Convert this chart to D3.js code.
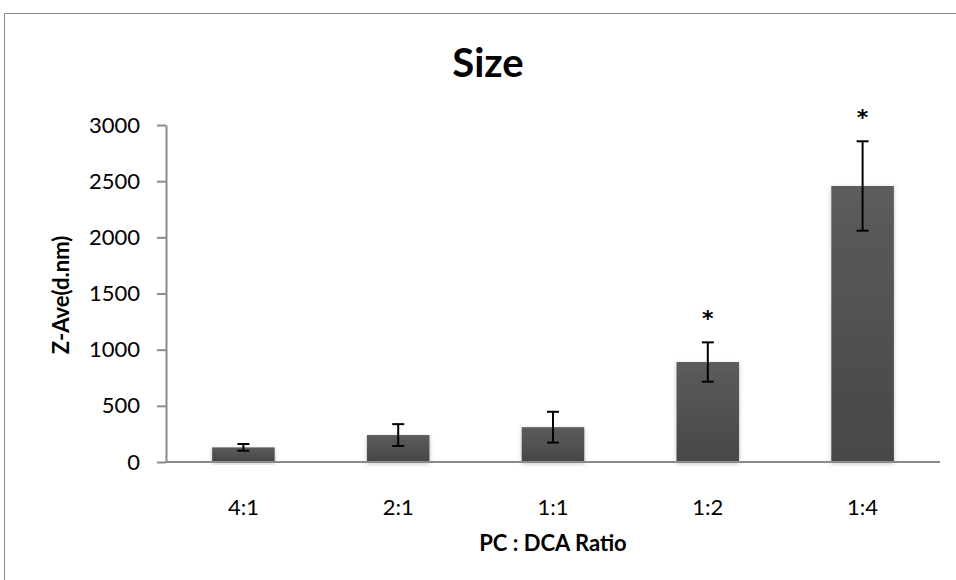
<!DOCTYPE html>
<html>
<head>
<meta charset="utf-8">
<script src="https://cdn.jsdelivr.net/npm/d3@7"></script>
<style>
  html, body { margin: 0; padding: 0; background: #fff; }
  svg { display: block; font-family: "Lato", "Open Sans", sans-serif; }
</style>
</head>
<body>
<svg id="chart" width="956" height="580"></svg>
<script>
// Mean Z-average particle size per PC:DCA ratio, with standard deviation
const categories = ["4:1", "2:1", "1:1", "1:2", "1:4"];
const sizeMeans = [130, 240, 310, 890, 2457];
const sizeErrors = [30, 97, 137, 175, 398];
const significant = [false, false, false, true, true];
const yTicks = [0, 500, 1000, 1500, 2000, 2500, 3000];

const svg = d3.select("#chart");
const margin = { left: 166, right: 16, top: 125, bottom: 118 };
const W = 956, H = 580;

// outer chart frame
svg.append("rect")
  .attr("x", 4.5).attr("y", 13.5)
  .attr("width", W + 10).attr("height", H + 10)
  .attr("fill", "#fff").attr("stroke", "#8c8c8c").attr("stroke-width", 1);

const x = d3.scaleBand()
  .domain(categories)
  .range([margin.left, W - margin.right])
  .paddingInner(0.596)
  .paddingOuter(0.298);

const y = d3.scaleLinear()
  .domain([0, 3000])
  .range([H - margin.bottom, margin.top]);

const defs = svg.append("defs");
const grad = defs.append("linearGradient")
  .attr("id", "barFill").attr("x1", 0).attr("y1", 0).attr("x2", 0).attr("y2", 1);
grad.append("stop").attr("offset", "0%").attr("stop-color", "#5c5c5c");
grad.append("stop").attr("offset", "100%").attr("stop-color", "#474747");

const shadow = defs.append("filter").attr("id", "barShadow")
  .attr("x", "-20%").attr("y", "-10%").attr("width", "140%").attr("height", "130%");
shadow.append("feDropShadow")
  .attr("dx", 0).attr("dy", 1.5).attr("stdDeviation", 2)
  .attr("flood-color", "#000").attr("flood-opacity", 0.25);

// bars
svg.append("g").selectAll("rect")
  .data(categories)
  .join("rect")
  .attr("x", d => x(d))
  .attr("width", x.bandwidth())
  .attr("y", (d, i) => y(sizeMeans[i]))
  .attr("height", (d, i) => y(0) - y(sizeMeans[i]))
  .attr("fill", "url(#barFill)")
  .attr("filter", "url(#barShadow)");

// y axis
const yAxis = svg.append("g")
  .attr("transform", `translate(${margin.left},0)`)
  .call(d3.axisLeft(y).tickValues(yTicks).tickFormat(d3.format("d"))
    .tickSize(9).tickPadding(17).tickSizeOuter(0));
yAxis.select(".domain").attr("stroke", "#8a8a8a").attr("stroke-width", 2);
yAxis.selectAll(".tick line").attr("stroke", "#8a8a8a").attr("stroke-width", 2);
yAxis.selectAll(".tick text")
  .attr("fill", "#000").style("font-size", "22px").style("font-family", "Lato, sans-serif");

// x axis
const xAxis = svg.append("g")
  .attr("transform", `translate(0,${y(0)})`)
  .call(d3.axisBottom(x).tickSize(0).tickPadding(37));
xAxis.select(".domain").attr("stroke", "#8a8a8a").attr("stroke-width", 2)
  .attr("d", `M${margin.left},0H${W - margin.right}`);
xAxis.selectAll(".tick text")
  .attr("fill", "#000").style("font-size", "22px").style("font-family", "Lato, sans-serif");

// error bars
const cap = 6;
const eb = svg.append("g").attr("stroke", "#000").attr("stroke-width", 2);
categories.forEach((c, i) => {
  const cx = x(c) + x.bandwidth() / 2;
  const hi = y(sizeMeans[i] + sizeErrors[i]);
  const lo = y(sizeMeans[i] - sizeErrors[i]);
  eb.append("line").attr("x1", cx).attr("x2", cx).attr("y1", hi).attr("y2", lo);
  eb.append("line").attr("x1", cx - cap).attr("x2", cx + cap).attr("y1", hi).attr("y2", hi);
  eb.append("line").attr("x1", cx - cap).attr("x2", cx + cap).attr("y1", lo).attr("y2", lo);
});

// significance markers
svg.append("g").selectAll("text")
  .data(categories.filter((c, i) => significant[i]))
  .join("text")
  .attr("x", d => x(d) + x.bandwidth() / 2)
  .attr("y", d => {
    const i = categories.indexOf(d);
    return y(sizeMeans[i] + sizeErrors[i]) - 16;
  })
  .attr("text-anchor", "middle")
  .style("font-family", "'DejaVu Sans', sans-serif")
  .style("font-size", "22px").style("font-weight", "bold")
  .text("*");

// title
svg.append("text")
  .attr("x", 488).attr("y", 77)
  .attr("text-anchor", "middle")
  .style("font-size", "40px").style("font-weight", "bold")
  .text("Size");

// axis titles
svg.append("text")
  .attr("x", 553).attr("y", 551)
  .attr("text-anchor", "middle")
  .style("font-size", "22px").style("font-weight", "bold")
  .text("PC : DCA Ratio");

svg.append("text")
  .attr("transform", "translate(69,295) rotate(-90)")
  .attr("text-anchor", "middle")
  .style("font-size", "22px").style("font-weight", "bold")
  .text("Z-Ave(d.nm)");
</script>
</body>
</html>
